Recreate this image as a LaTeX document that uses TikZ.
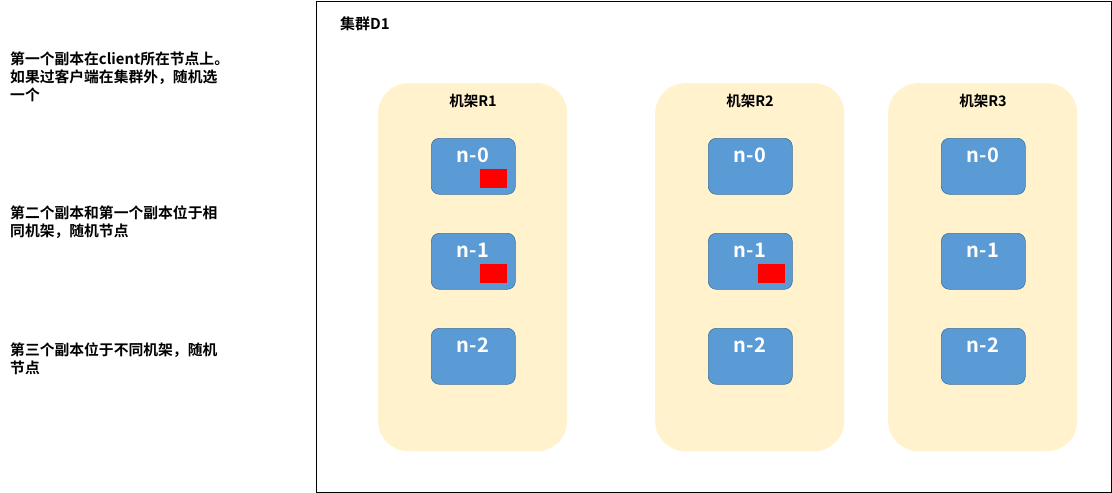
\documentclass[tikz,border=0pt]{standalone}
\usepackage{fontspec}
\setmainfont{Noto Sans CJK SC}[BoldFont={Noto Sans CJK SC Bold}]
\definecolor{rackfill}{HTML}{FFF2CC}
\definecolor{nodefill}{HTML}{5B9BD5}
\definecolor{nodeedge}{HTML}{41719C}
\begin{document}
\begin{tikzpicture}[x=1pt,y=-1pt,
  rack/.style={fill=rackfill,draw=none,rounded corners=30pt,minimum width=189pt,minimum height=368pt,anchor=north west,inner sep=0pt},
  dn/.style={fill=nodefill,draw=nodeedge,line width=0.6pt,rounded corners=8pt,minimum width=84pt,minimum height=56pt,anchor=north west,inner sep=0pt},
  dnlabel/.style={text=white,font=\fontsize{20}{22}\selectfont\bfseries,inner sep=0pt},
  rep/.style={fill=red,draw=none,minimum width=27pt,minimum height=19pt,anchor=north west,inner sep=0pt},
  lbl/.style={font=\fontsize{14.5}{18}\selectfont\bfseries,inner sep=0pt},
  note/.style={font=\fontsize{14.8}{18}\selectfont\bfseries,inner sep=0pt,align=left,anchor=north west}
]
\useasboundingbox (0,0) rectangle (1112,493);
\node[draw=black,line width=0.8pt,minimum width=795pt,minimum height=491.5pt,anchor=north west,inner sep=0pt] (cluster) at (316,0.5) {};
\node[lbl,anchor=west,font=\fontsize{15}{18}\selectfont\bfseries] (ctitle) at (340,24) {集群D1};

\node[note] (t1) at (10,52) {第一个副本在client所在节点上。\\如果过客户端在集群外，随机选\\一个};
\node[note] (t2) at (10,206) {第二个副本和第一个副本位于相\\同机架，随机节点};
\node[note] (t3) at (10,343) {第三个副本位于不同机架，随机\\节点};

\foreach \r/\x in {1/378,2/655,3/888}{
  \node[rack] (rack\r) at (\x,83) {};
  \node[lbl] (rl\r) at (\x+95,101) {机架R\r};
  \foreach \i/\y in {0/138,1/233,2/328}{
    \node[dn] (n\r\i) at (\x+53,\y) {};
    \node[dnlabel] (nl\r\i) at (\x+95,\y+17) {n-\i};
  }
}
\node[rep] (rp1) at (480,169) {};
\node[rep] (rp2) at (480,264) {};
\node[rep] (rp3) at (758,264) {};
\end{tikzpicture}
\end{document}
